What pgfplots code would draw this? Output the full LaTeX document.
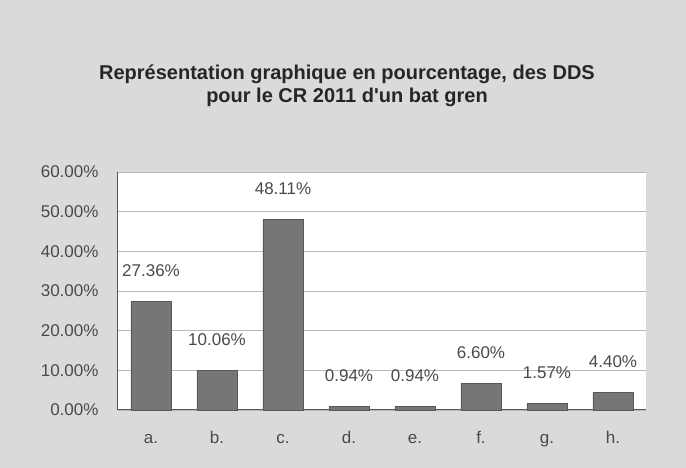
\documentclass[border=0pt]{standalone}
\usepackage{pgfplots}
\pgfplotsset{compat=1.18}
\usepackage{fontspec}
\setmainfont{Liberation Sans}
\definecolor{bgcol}{HTML}{DADADA}
\definecolor{barcol}{HTML}{767676}
\definecolor{baredge}{HTML}{585858}
\definecolor{txtcol}{HTML}{4A4A4A}
\definecolor{gridcol}{HTML}{B8B8B8}
\begin{document}
\begin{tikzpicture}[x=1pt,y=1pt]
\fill[bgcol] (0,0) rectangle (686,468);
\node[font=\bfseries\fontsize{20}{23}\selectfont, text=black!85, align=center] at (347,382) {Représentation graphique en pourcentage, des DDS\\pour le CR 2011 d\textquotesingle un bat gren};
\begin{axis}[
  at={(118pt,58pt)}, anchor=south west,
  width=528pt, height=238pt, scale only axis,
  xmin=-0.5, xmax=7.5, ymin=0, ymax=60,
  axis background/.style={fill=white},
  axis x line*=bottom, axis y line*=left,
  axis line style={baredge, line width=1pt},
  ytick={0,10,...,60},
  yticklabels={0.00\%,10.00\%,20.00\%,30.00\%,40.00\%,50.00\%,60.00\%},
  xtick={0,...,7},
  xticklabels={a.,b.,c.,d.,e.,f.,g.,h.},
  major tick length=0pt,
  ymajorgrids, grid style={gridcol, line width=0.8pt},
  tick label style={font=\fontsize{17}{20}\selectfont, text=txtcol},
  yticklabel style={xshift=-16pt},
  xticklabel style={anchor=base, yshift=-34pt},
  /pgf/number format/assume math mode=true,
  clip=false,
]
\addplot[ybar, bar width=40pt, fill=barcol, draw=baredge, line width=0.8pt,
  nodes near coords={\pgfmathprintnumber[fixed, fixed zerofill, precision=2]{\pgfplotspointmeta}\%},
  nodes near coords style={font=\fontsize{17}{20}\selectfont, text=txtcol, anchor=south, yshift=21pt},
] coordinates {
 (0,27.36) (1,10.06) (2,48.11) (3,0.94) (4,0.94) (5,6.60) (6,1.57) (7,4.40)
};
\end{axis}
\end{tikzpicture}
\end{document}
